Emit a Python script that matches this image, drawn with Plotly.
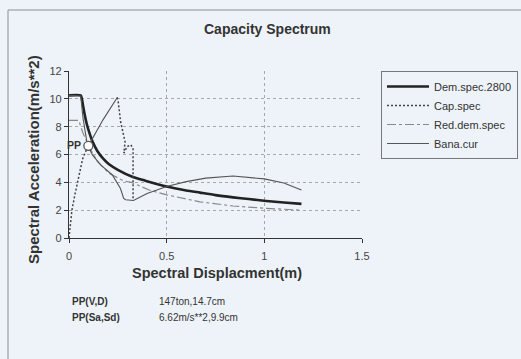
import plotly.graph_objects as go

# --- Data ---
dem_x = [0, 0.06, 0.066, 0.072, 0.08, 0.09, 0.1, 0.12, 0.145, 0.175, 0.205, 0.25, 0.324, 0.39, 0.5, 0.6, 0.67, 0.75, 0.84, 0.92, 1.01, 1.1, 1.19]
dem_y = [10.25, 10.25, 10.0, 9.5, 8.9, 8.25, 7.75, 6.95, 6.25, 5.7, 5.3, 4.9, 4.4, 4.12, 3.7, 3.42, 3.26, 3.08, 2.92, 2.8, 2.66, 2.55, 2.45]

cap_x = [0, 0.005, 0.015, 0.03, 0.05, 0.07, 0.085, 0.099]
cap_y = [0, 0.8, 2.0, 3.1, 4.5, 5.7, 6.2, 6.62]

cap2_x = [0.247, 0.252, 0.264, 0.281, 0.287, 0.281, 0.298, 0.316, 0.328, 0.328]
cap2_y = [10.1, 9.8, 8.37, 7.4, 6.9, 6.1, 6.57, 6.7, 6.45, 2.73]

red_x = [0, 0.05, 0.07, 0.1, 0.145, 0.205, 0.28, 0.32, 0.41, 0.5, 0.67, 0.84, 1.01, 1.19]
red_y = [8.45, 8.45, 7.6, 6.62, 5.5, 4.65, 4.1, 4.0, 3.45, 3.1, 2.6, 2.3, 2.13, 2.0]

bana_x = [0, 0.06, 0.072, 0.085, 0.094, 0.12, 0.162, 0.222, 0.256, 0.262, 0.266, 0.27, 0.273,
          0.276, 0.28, 0.29, 0.33, 0.4, 0.5, 0.6, 0.7, 0.84, 1.0, 1.1, 1.19]
bana_y = [10.25, 10.2, 8.6, 7.4, 6.7, 5.97, 5.25, 4.53, 3.8, 3.6, 3.45, 3.3, 3.1,
          3.0, 2.85, 2.75, 2.7, 3.2, 3.7, 4.05, 4.3, 4.45, 4.25, 3.95, 3.45]

seg_x = [0.099, 0.174, 0.247]
seg_y = [6.62, 8.49, 10.1]

pp_x = [0.099]
pp_y = [6.62]

x_ticks = [0, 0.5, 1, 1.5]
y_ticks = [0, 2, 4, 6, 8, 10, 12]

FONT = "Liberation Sans, Arial, sans-serif"
BG = "#eef3f9"
TXT = "#333333"

fig = go.Figure()
fig.add_trace(go.Scatter(x=dem_x, y=dem_y, mode="lines", name="Dem.spec.2800",
                         line=dict(color="#222222", width=2.6, shape="spline", smoothing=0.6)))
fig.add_trace(go.Scatter(x=cap_x + [None] + cap2_x, y=cap_y + [None] + cap2_y, mode="lines",
                         name="Cap.spec", line=dict(color="#444444", width=1.5, dash="2px,2px")))
fig.add_trace(go.Scatter(x=red_x, y=red_y, mode="lines", name="Red.dem.spec",
                         line=dict(color="#888888", width=1.2, dash="dashdot")))
fig.add_trace(go.Scatter(x=bana_x, y=bana_y, mode="lines", name="Bana.cur",
                         line=dict(color="#555555", width=1.1)))
fig.add_trace(go.Scatter(x=seg_x, y=seg_y, mode="lines", showlegend=False,
                         line=dict(color="#555555", width=1.1)))
fig.add_trace(go.Scatter(x=pp_x, y=pp_y, mode="markers", showlegend=False,
                         marker=dict(symbol="circle", size=9, color="white",
                                     line=dict(color="#555555", width=1.3))))

# plot area: left 69, right 362, top 71, bottom 238
L, R, T, B = 69, 362, 71, 238
W, H = 521, 359
pw, ph = R - L, B - T

def px(xp):
    return (xp - L) / pw

def py(yp):
    return (B - yp) / ph

annotations = [
    dict(text="<b>Capacity Spectrum</b>", x=px(267), y=py(29), xref="paper", yref="paper",
         showarrow=False, font=dict(size=14, color=TXT, family=FONT), xanchor="center", yanchor="middle"),
    dict(text="<b>Spectral Acceleration(m/s**2)</b>", x=px(33), y=py(160), xref="paper", yref="paper",
         showarrow=False, textangle=-90, font=dict(size=15, color=TXT, family=FONT),
         xanchor="center", yanchor="middle"),
    dict(text="<b>Spectral Displacment(m)</b>", x=px(217), y=py(273), xref="paper", yref="paper",
         showarrow=False, font=dict(size=14.5, color=TXT, family=FONT), xanchor="center", yanchor="middle"),
    dict(text="<b>PP(V,D)</b>", x=px(70), y=py(301), xref="paper", yref="paper", showarrow=False,
         font=dict(size=10, color=TXT, family=FONT), xanchor="left", yanchor="middle"),
    dict(text="147ton,14.7cm", x=px(157), y=py(301), xref="paper", yref="paper", showarrow=False,
         font=dict(size=10, color=TXT, family=FONT), xanchor="left", yanchor="middle"),
    dict(text="<b>PP(Sa,Sd)</b>", x=px(70), y=py(317), xref="paper", yref="paper", showarrow=False,
         font=dict(size=10, color=TXT, family=FONT), xanchor="left", yanchor="middle"),
    dict(text="6.62m/s**2,9.9cm", x=px(157), y=py(317), xref="paper", yref="paper", showarrow=False,
         font=dict(size=10, color=TXT, family=FONT), xanchor="left", yanchor="middle"),
    dict(text="<b>PP</b>", x=pp_x[0], y=pp_y[0], xref="x", yref="y", showarrow=False,
         font=dict(size=10.5, color=TXT, family=FONT), xanchor="right", yanchor="middle",
         xshift=-5, yshift=1),
]

shapes = [
    dict(type="rect", xref="paper", yref="paper", x0=px(8), x1=px(540), y0=py(380), y1=py(10),
         line=dict(color="#8a8f96", width=1), fillcolor="rgba(0,0,0,0)", layer="below"),
]

fig.update_layout(
    width=W, height=H,
    margin=dict(l=L, r=W - R, t=T, b=H - B, pad=0, autoexpand=False),
    paper_bgcolor=BG, plot_bgcolor=BG,
    font=dict(family=FONT, size=11, color=TXT),
    showlegend=True,
    legend=dict(x=px(381), y=1.0, xanchor="left", yanchor="top",
                bgcolor=BG, bordercolor="#777777", borderwidth=1,
                font=dict(size=11, color=TXT, family=FONT), itemwidth=42,
                tracegroupgap=0),
    annotations=annotations,
    shapes=shapes,
    xaxis=dict(range=[0, 1.5], tickvals=x_ticks, ticktext=["0", "0.5", "1", "1.5"],
               showgrid=True, gridcolor="#a8a8a8", griddash="dot", gridwidth=1,
               showline=True, linecolor="#333333", linewidth=1.2, mirror=False,
               ticks="outside", ticklen=4, tickcolor="#333333", zeroline=False,
               ticklabelstandoff=4,
               tickfont=dict(size=11, color="#444444", family=FONT)),
    yaxis=dict(range=[0, 12], tickvals=y_ticks,
               showgrid=True, gridcolor="#a8a8a8", griddash="dot", gridwidth=1,
               showline=True, linecolor="#333333", linewidth=1.2,
               ticks="outside", ticklen=4, tickcolor="#333333", zeroline=False,
               tickfont=dict(size=11, color="#444444", family=FONT)),
)

fig.write_html("out.html")
